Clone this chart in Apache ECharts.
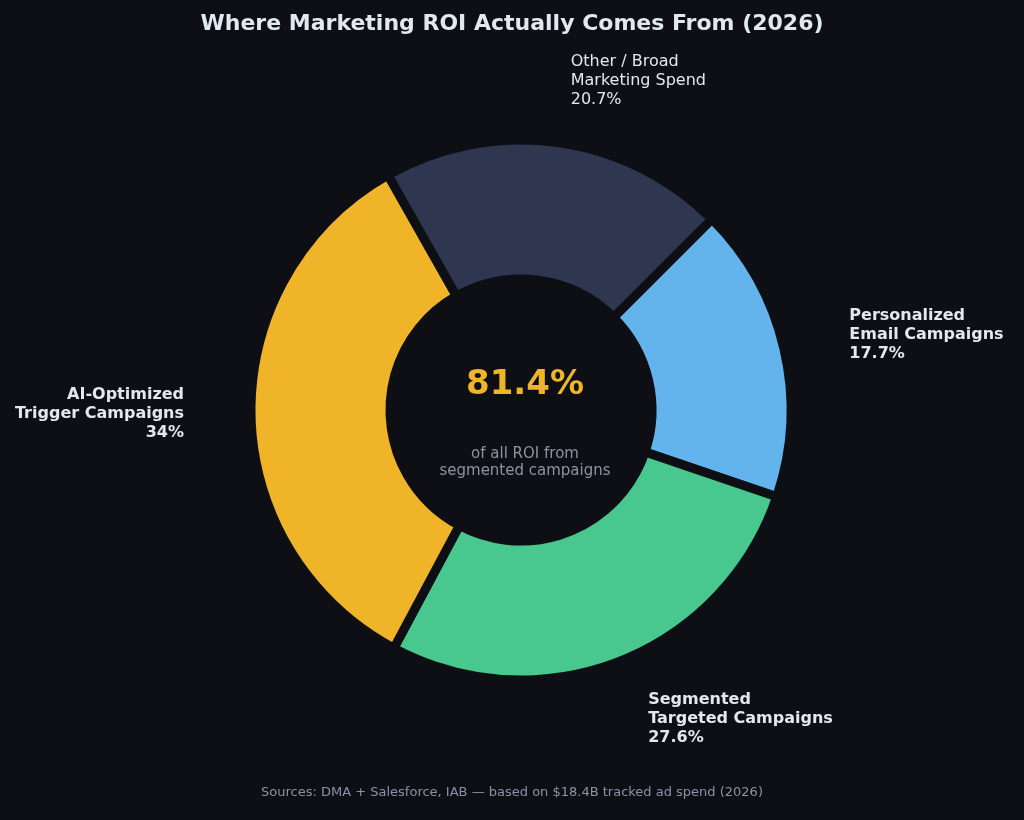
<!DOCTYPE html>
<html><head><meta charset="utf-8">
<script src="https://cdn.jsdelivr.net/npm/echarts@6/dist/echarts.min.js"></script>
<style>html,body{margin:0;background:#0d0f14}#c{width:1024px;height:820px}</style>
</head><body><div id="c"></div>
<script>
const categories = ["Personalized\nEmail Campaigns","Segmented\nTargeted Campaigns","AI-Optimized\nTrigger Campaigns","Other / Broad\nMarketing Spend"];
const values = [17.7, 27.6, 34, 20.7];
const colors = ["#63b3ed","#48c78e","#f0b429","#2e3650"];
const boldFlags = [true,true,true,false];
const chart = echarts.init(document.getElementById('c'));
chart.setOption({
  backgroundColor:'#0d0f14',
  title:{text:'Where Marketing ROI Actually Comes From (2026)',left:'center',top:8,
    textStyle:{color:'#e2e8f0',fontSize:22,fontWeight:'bold',fontFamily:'DejaVu Sans'}},
  graphic:[
    {type:'text',left:'center',top:800-14,style:{text:'Sources: DMA + Salesforce, IAB — based on $18.4B tracked ad spend (2026)',fill:'#8a93a6',font:'13px DejaVu Sans',x:0}},
    {type:'text',x:525,y:385,style:{text:'81.4%',fill:'#f0b429',font:'bold 34px DejaVu Sans',align:'center',verticalAlign:'middle'}},
    {type:'text',x:525,y:463,style:{text:'of all ROI from\nsegmented campaigns',fill:'#8a93a6',font:'15px DejaVu Sans',align:'center',verticalAlign:'middle',lineHeight:17}}
  ],
  series:[{
    type:'pie',center:[521,410],radius:[131,270],startAngle:45,clockwise:true,
    avoidLabelOverlap:false,
    itemStyle:{borderColor:'#0d0f14',borderWidth:9},
    labelLine:{show:false,length:62,length2:0},
    label:{show:true,position:'outside',color:'#e2e8f0',fontSize:16,lineHeight:19,fontFamily:'DejaVu Sans'},
    emphasis:{disabled:true},
    data:categories.map((n,i)=>({name:n,value:values[i],itemStyle:{color:colors[i]},
      label:{formatter:n+'\n'+values[i]+'%',fontWeight:boldFlags[i]?'bold':'normal'}}))
  }]
});
</script></body></html>
